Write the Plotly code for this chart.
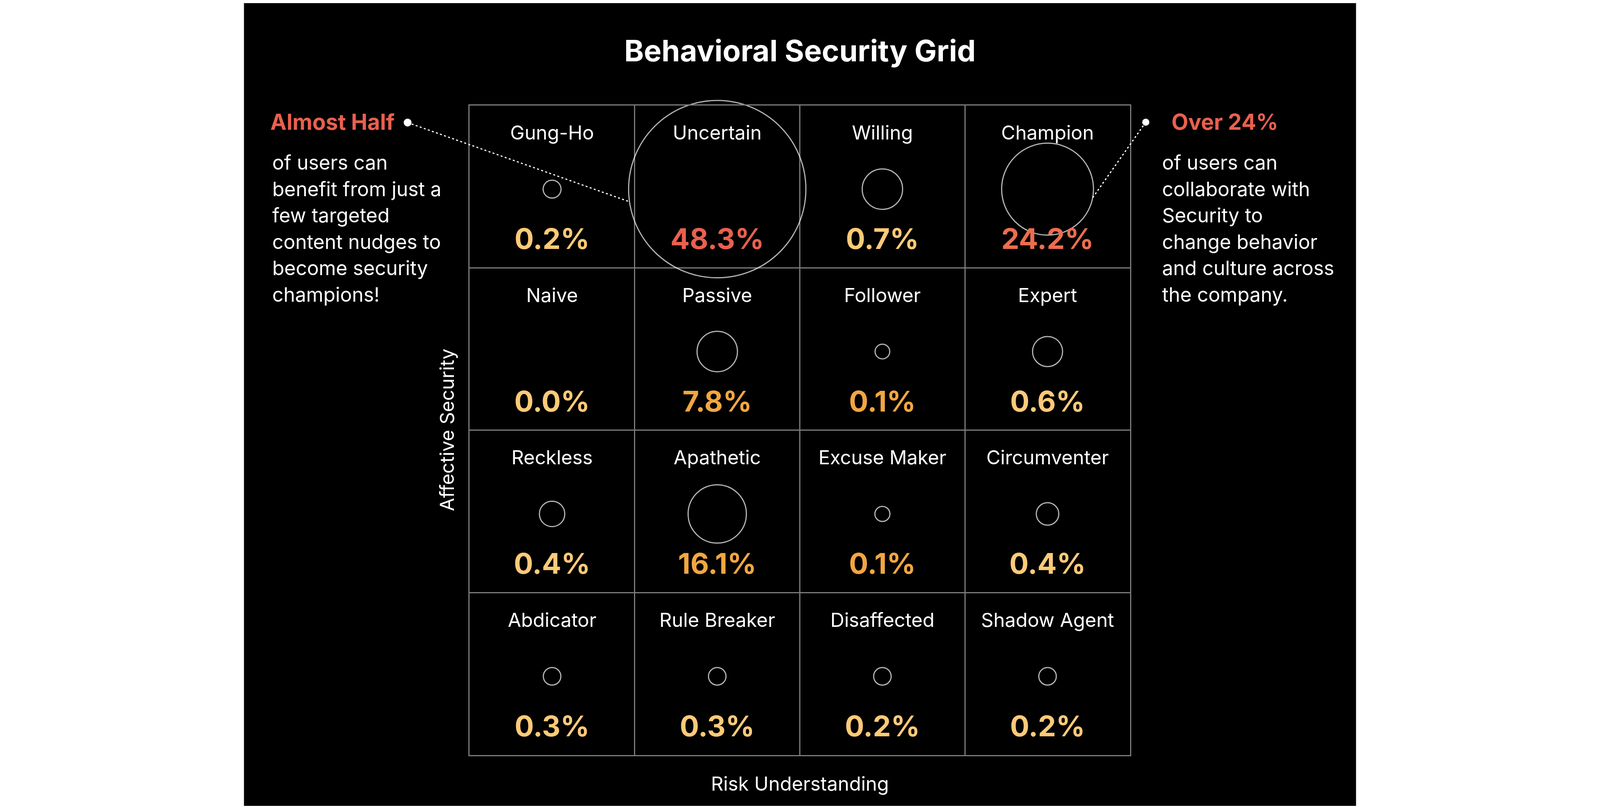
import plotly.graph_objects as go

# persona grid, read left to right, top row first
personas = ["Gung-Ho", "Uncertain", "Willing", "Champion",
            "Naive", "Passive", "Follower", "Expert",
            "Reckless", "Apathetic", "Excuse Maker", "Circumventer",
            "Abdicator", "Rule Breaker", "Disaffected", "Shadow Agent"]
share_pct = [0.2, 48.3, 0.7, 24.2,
             0.0, 7.8, 0.1, 0.6,
             0.4, 16.1, 0.1, 0.4,
             0.3, 0.3, 0.2, 0.2]
bubble_size = [50, 496, 113, 257,
               0, 113, 41, 84,
               71, 163, 42, 63,
               49, 49, 49, 49]
tier = ["low", "high", "low", "top",
        "low", "mid", "mid", "low",
        "low", "mid", "mid", "low",
        "low", "low", "low", "low"]

left_head = "Almost Half"
left_body = ["of users can", "benefit from just a", "few targeted",
             "content nudges to", "become security", "champions!"]
right_head = "Over 24%"
right_body = ["of users can", "collaborate with", "Security to",
              "change behavior", "and culture across", "the company."]

tier_color = {"high": "#E9604F", "top": "#EC6D4F", "mid": "#F2A641", "low": "#FDCA78"}
FONT = "Inter"
W, H = 4480, 2070          # reference canvas, positions below are in its pixels
S = 0.915                  # css px per reference px (page renders at ~1.09 dpr)
N = 4
GX0, GX1, GY0, GY1 = 1311, 3168, 264, 1939


def px(x):
    return x / W


def py(y):
    return 1 - y / H


cols = [i % N for i in range(len(personas))]
rows = [i // N for i in range(len(personas))]
xc = [c + 0.5 for c in cols]
top = [N - r for r in rows]

fig = go.Figure()

fig.add_trace(go.Scatter(
    x=xc, y=[t - 0.515 for t in top], mode="markers",
    marker=dict(size=[b * S for b in bubble_size], sizemode="diameter",
                color="rgba(0,0,0,0)", line=dict(color="white", width=3)),
    cliponaxis=False, hoverinfo="skip"))

fig.add_trace(go.Scatter(
    x=xc, y=[t - 0.18 for t in top], mode="text", text=personas,
    textposition="middle center",
    textfont=dict(family=FONT, size=54 * S, color="white"),
    cliponaxis=False, hoverinfo="skip"))

fig.add_trace(go.Scatter(
    x=xc, y=[t - 0.84 for t in top], mode="text",
    text=[f"{v:.1f}%" for v in share_pct],
    textposition="middle center",
    textfont=dict(family=FONT, size=80 * S, weight=700,
                  color=[tier_color[t] for t in tier]),
    cliponaxis=False, hoverinfo="skip"))

axis_style = dict(range=[0, N], tickvals=list(range(1, N)), showgrid=True,
                  gridcolor="#7c7c7c", gridwidth=2.8, showline=True, mirror=True,
                  linecolor="#7c7c7c", linewidth=2.8, showticklabels=False,
                  ticks="", zeroline=False, fixedrange=True)

fig.update_layout(
    margin=dict(l=0, r=0, t=0, b=0),
    paper_bgcolor="white", plot_bgcolor="black", showlegend=False,
    xaxis=dict(domain=[px(GX0), px(GX1)], **axis_style),
    yaxis=dict(domain=[py(GY1), py(GY0)], **axis_style),
)

# black panel behind everything
fig.add_shape(type="rect", xref="paper", yref="paper", x0=px(677), x1=px(3803),
              y0=0, y1=1, fillcolor="black", line_width=0, layer="below")

# callout dots and dotted leaders
for (x0, y0), (x1, y1), d in [((1137, 308), (1760, 512), 22),
                              ((3212, 307), (3061, 504), 20)]:
    fig.add_shape(type="line", xref="paper", yref="paper",
                  x0=px(x0), y0=py(y0), x1=px(x1), y1=py(y1),
                  line=dict(color="white", width=3, dash="5px,6px"))
    r = d * S / 2
    fig.add_shape(type="circle", xref="paper", yref="paper",
                  xsizemode="pixel", ysizemode="pixel",
                  xanchor=px(x0), yanchor=py(y0), x0=-r, x1=r, y0=-r, y1=r,
                  fillcolor="white", line_width=0)

fig.add_annotation(text="Behavioral Security Grid", xref="paper", yref="paper",
                   x=0.5, y=py(122), showarrow=False, xanchor="center", yanchor="middle",
                   font=dict(family=FONT, size=83 * S, weight=700, color="white"))

fig.add_annotation(text="Affective Security", xref="paper", yref="paper",
                   x=px(1248), y=py(1101), showarrow=False, textangle=-90,
                   xanchor="center", yanchor="middle",
                   font=dict(family=FONT, size=54 * S, color="white"))
fig.add_annotation(text="Risk Understanding", xref="paper", yref="paper",
                   x=px(2240), y=py(2013), showarrow=False,
                   xanchor="center", yanchor="middle",
                   font=dict(family=FONT, size=54 * S, color="white"))

for head, body, hx, bx in [(left_head, left_body, 749, 754),
                           (right_head, right_body, 3282, 3256)]:
    fig.add_annotation(text=head, xref="paper", yref="paper", x=px(hx), y=py(306),
                       xanchor="left", yanchor="middle", showarrow=False,
                       font=dict(family=FONT, size=61 * S, weight=700,
                                 color=tier_color["high"]))
    for k, line in enumerate(body):
        fig.add_annotation(text=line, xref="paper", yref="paper",
                           x=px(bx), y=py(411 + 68 * k), xanchor="left", yanchor="middle",
                           showarrow=False,
                           font=dict(family=FONT, size=55 * S, color="white"))

fig.write_html("out.html")
